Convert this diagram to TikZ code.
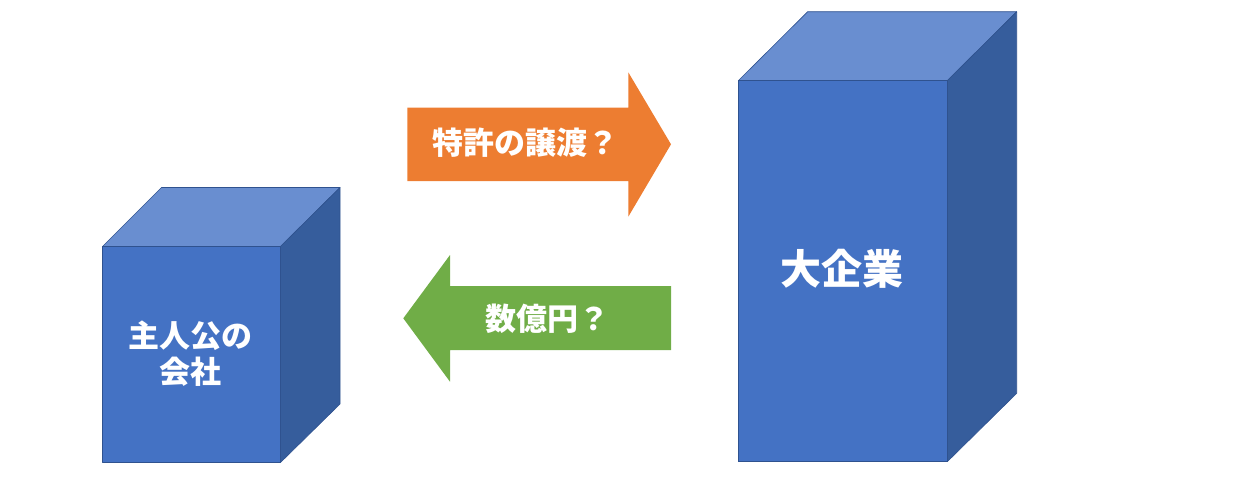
\documentclass[tikz,border=0pt]{standalone}
\usepackage{fontspec}
\newfontfamily\jp{Noto Sans CJK JP}
\definecolor{frontc}{HTML}{4472C4}
\definecolor{topc}{HTML}{698ED0}
\definecolor{sidec}{HTML}{365D9C}
\definecolor{edgec}{HTML}{2F528F}
\definecolor{orangec}{HTML}{ED7D31}
\definecolor{greenc}{HTML}{70AD47}
\begin{document}
\begin{tikzpicture}[x=1pt,y=-1pt,
  edge/.style={draw=edgec,line width=0.6pt,line join=round},
  frontbox/.style={rectangle,fill=frontc,edge,inner sep=0pt,text=white,align=center},
  jptext/.style={text=white,font=\jp\bfseries\fontsize{31}{36}\selectfont,align=center,inner sep=0pt},
  arrowshape/.style={line join=miter}]
\useasboundingbox (0,0) rectangle (1235,480);
% left cube
\path[fill=topc,edge] (102.5,246.5) -- (161.5,187.5) -- (340,187.5) -- (280.5,246.5) -- cycle;
\path[fill=sidec,edge] (280.5,246.5) -- (340,187.5) -- (340,404) -- (280.5,462.5) -- cycle;
\node[frontbox,minimum width=178pt,minimum height=216pt] (lbox) at (191.5,354.5) {};
\node[jptext] (ltext) at (190.5,354) {主人公の\\会社};
% right cube
\path[fill=topc,edge] (738.3,80.7) -- (807.7,11.7) -- (1016.7,11.7) -- (947.3,80.7) -- cycle;
\path[fill=sidec,edge] (947.3,80.7) -- (1016.7,11.7) -- (1016.7,393.3) -- (947.3,461.7) -- cycle;
\node[frontbox,minimum width=209pt,minimum height=381pt] (rbox) at (842.8,271.2) {};
\node[jptext,font=\jp\bfseries\fontsize{41}{48}\selectfont] (rtext) at (842,269) {大企業};
% orange arrow
\fill[orangec,arrowshape] (407.3,107.7) -- (628.3,107.7) -- (628.3,72.3) -- (671,144.3) -- (628.3,216.7) -- (628.3,181) -- (407.3,181) -- cycle;
\node[jptext] (otext) at (525,143) {特許の譲渡？};
% green arrow
\fill[greenc,arrowshape] (403.3,318.3) -- (450,255) -- (450,286) -- (671,286) -- (671,350) -- (450,350) -- (450,381.7) -- cycle;
\node[jptext] (gtext) at (547,319) {数億円？};
\end{tikzpicture}
\end{document}
